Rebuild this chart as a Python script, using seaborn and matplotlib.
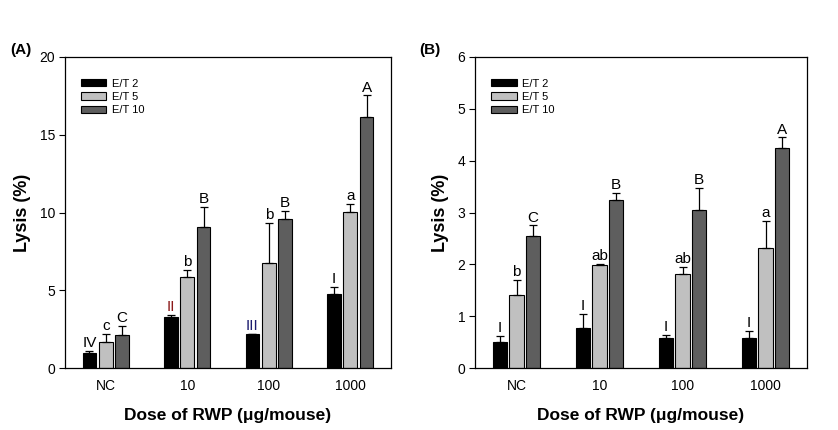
import numpy as np
import pandas as pd
import matplotlib
matplotlib.use("Agg")
import matplotlib.pyplot as plt
from matplotlib.container import BarContainer
import seaborn as sns

doses = ["NC", "10", "100", "1000"]
ratios = ["E/T 2", "E/T 5", "E/T 10"]

# Panel A
a_et2 = [0.96, 3.26, 2.16, 4.78]
a_et5 = [1.69, 5.87, 6.77, 10.03]
a_et10 = [2.14, 9.09, 9.60, 16.16]
a_err2 = [0.14, 0.14, 0.05, 0.43]
a_err5 = [0.51, 0.45, 2.58, 0.52]
a_err10 = [0.58, 1.26, 0.52, 1.37]
a_lab2 = ["IV", "II", "III", "I"]
a_lab5 = ["c", "b", "b", "a"]
a_lab10 = ["C", "B", "B", "A"]

# Panel B
b_et2 = [0.51, 0.78, 0.585, 0.585]
b_et5 = [1.41, 1.99, 1.82, 2.32]
b_et10 = [2.55, 3.24, 3.05, 4.25]
b_err2 = [0.11, 0.26, 0.05, 0.13]
b_err5 = [0.29, 0.02, 0.13, 0.52]
b_err10 = [0.20, 0.14, 0.42, 0.20]
b_lab2 = ["I", "I", "I", "I"]
b_lab5 = ["b", "ab", "ab", "a"]
b_lab10 = ["C", "B", "B", "A"]

colors = ["#000000", "#c0c0c0", "#5e5e5e"]

sns.set_theme(style="white")
plt.rcParams["font.family"] = ["Liberation Sans", "DejaVu Sans"]
plt.rcParams["text.color"] = "black"
plt.rcParams["axes.labelcolor"] = "black"
plt.rcParams["xtick.color"] = "black"
plt.rcParams["ytick.color"] = "black"

fig = plt.figure(figsize=(8.38, 4.30), dpi=100)
axA = fig.add_axes([65 / 838, 1 - 368 / 430, 326 / 838, 311 / 430])
axB = fig.add_axes([475 / 838, 1 - 368 / 430, 332 / 838, 311 / 430])


def panel(ax, vals, errs, labs, ymax, yticks, tag, labcolors=None):
    rows = []
    for r, v in zip(ratios, vals):
        for d, x in zip(doses, v):
            rows.append({"Dose": d, "Ratio": r, "Lysis": x})
    df = pd.DataFrame(rows)
    sns.barplot(data=df, x="Dose", y="Lysis", hue="Ratio", order=doses,
                hue_order=ratios, palette=colors, width=0.6, gap=0.15,
                errorbar=None, edgecolor="black", linewidth=0.8, ax=ax)
    bars = [c for c in ax.containers if isinstance(c, BarContainer)]
    for k, cont in enumerate(bars):
        xs = [p.get_x() + p.get_width() / 2 for p in cont.patches]
        hs = [p.get_height() for p in cont.patches]
        e = errs[k]
        ax.errorbar(xs, hs, yerr=[np.zeros(len(e)), e], fmt="none",
                    ecolor="black", elinewidth=0.9, capsize=3.2, capthick=0.9)
        for i, (x, h) in enumerate(zip(xs, hs)):
            c = "black"
            if labcolors is not None and labcolors[k][i]:
                c = labcolors[k][i]
            ax.annotate(labs[k][i], (x, h + e[i]), xytext=(0, 0.5),
                        textcoords="offset points", ha="center", va="bottom",
                        fontsize=11, color=c)
    ax.set_ylim(0, ymax)
    ax.set_xlim(-0.5, 3.5)
    ax.set_yticks(yticks)
    ax.set_yticklabels([str(t) for t in yticks], fontsize=10)
    ax.tick_params(axis="y", direction="out", length=4, width=0.8, left=True,
                   pad=3, colors="black")
    ax.tick_params(axis="x", length=0, labelsize=10, pad=8, colors="black")
    ax.set_xlabel("Dose of RWP (\u03bcg/mouse)", fontsize=12.5, fontweight="bold",
                  labelpad=11)
    ax.set_ylabel("Lysis (%)", fontsize=13, fontweight="bold", labelpad=6)
    for s in ax.spines.values():
        s.set_visible(True)
        s.set_color("black")
        s.set_linewidth(0.9)
    ax.legend(loc="upper left", frameon=False, fontsize=8,
              handlelength=2.3, handleheight=0.65, labelspacing=0.3,
              handletextpad=0.5, borderaxespad=0.0,
              bbox_to_anchor=(0.035, 0.945))
    ax.text(-0.168, 1.023, tag, transform=ax.transAxes, fontsize=11,
            fontweight="bold", ha="left", va="center")


panel(axA, [a_et2, a_et5, a_et10], [a_err2, a_err5, a_err10],
      [a_lab2, a_lab5, a_lab10], 20, [0, 5, 10, 15, 20], "(A)",
      labcolors=[[None, "#8b1a1a", "#1a1a6e", None], [None] * 4, [None] * 4])
panel(axB, [b_et2, b_et5, b_et10], [b_err2, b_err5, b_err10],
      [b_lab2, b_lab5, b_lab10], 6, [0, 1, 2, 3, 4, 5, 6], "(B)")

fig.savefig("out.png", dpi=100)
